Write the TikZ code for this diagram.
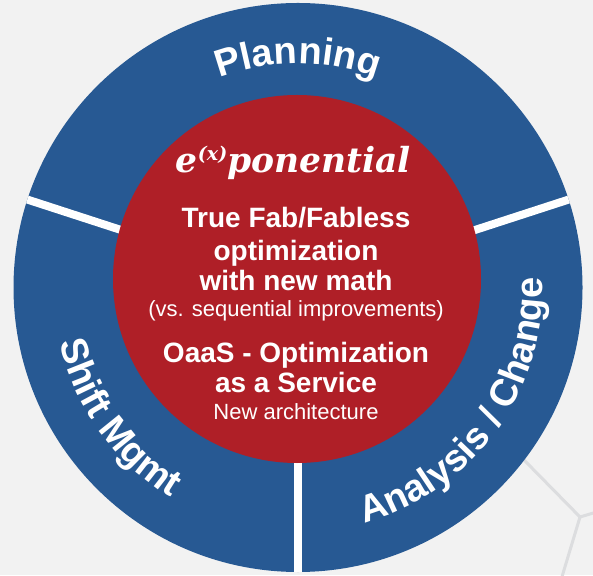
\documentclass[tikz,border=0pt]{standalone}
\usepackage{fontspec}
\setmainfont{Liberation Sans}
\newfontfamily\brandfont{DejaVu Serif}
\usepackage{tikz}
\usetikzlibrary{decorations.text, calc}
\definecolor{RingColor}{RGB}{39,89,147}
\definecolor{CoreColor}{RGB}{175,31,39}
\definecolor{PaperColor}{RGB}{242,242,242}
\definecolor{GridColor}{RGB}{220,221,223}
\tikzstyle{bigline} = [white, font=\bfseries\fontsize{28}{30}\selectfont, anchor=base, inner sep=0pt]
\tikzstyle{smallline} = [white, font=\fontsize{22}{24}\selectfont, anchor=base, inner sep=0pt]
\tikzstyle{divider} = [white, line width=8pt]
\tikzstyle{hexline} = [GridColor, line width=3pt]
\newcommand{\ringlabel}{\bfseries\fontsize{38}{40}\selectfont}

\begin{document}
\begin{tikzpicture}[x=1pt, y=1pt]
\fill[PaperColor] (0,0) rectangle (593,575);
\useasboundingbox (0,0) rectangle (593,575);
\clip (0,0) rectangle (593,575);

% background grid
\coordinate (h0) at (580,58);
\coordinate (h1) at (470,170);
\coordinate (h2) at (600,64);
\coordinate (h3) at (561,-5);
\draw[hexline] (h1) -- (h0) -- (h2);
\draw[hexline] (h0) -- (h3);

% outer ring
\coordinate (ring) at (298,287.5);
\fill[RingColor] (ring) circle[radius=284.5];
\begin{scope}
    \clip (ring) circle[radius=284.5];
    \foreach \a in {18,162,270}
        \draw[divider] (ring) -- ++(\a:300);
\end{scope}

% ring labels
\path[decorate, decoration={text along path, text={|\ringlabel|Planning}, text align=center, text color=white}]
    (ring) ++(162:224) arc[start angle=162, end angle=18, radius=224];
\path[decorate, decoration={text along path, text={|\ringlabel|Shift Mgmt}, text align=center, text color=white}]
    (ring) ++(162:245) arc[start angle=162, end angle=270, radius=245];
\path[decorate, decoration={text along path, text={|\ringlabel|Analysis / Change}, text align=center, text color=white}]
    (ring) ++(-90:245) arc[start angle=-90, end angle=18, radius=245];

% core
\coordinate (core) at (297,296);
\fill[CoreColor] (core) circle[radius=184];

\node[anchor=base, white, inner sep=0pt, font=\brandfont\bfseries\itshape\fontsize{34.5}{36}\selectfont] (brand) at (293.5,402)
    {e\raisebox{12pt}{\fontsize{19}{20}\selectfont(x)}ponential};
\node[bigline] (fab) at (296,347) {True Fab/Fabless};
\node[bigline] (opt) at (296,314.3) {optimization};
\node[bigline] (math) at (296,284.3) {with new math};
\node[smallline] (seq) at (296,258.3) {(vs. sequential improvements)};
\node[bigline] (oaas) at (296,212.3) {OaaS - Optimization};
\node[bigline] (serv) at (296,182) {as a Service};
\node[smallline] (arch) at (296,155) {New architecture};
\end{tikzpicture}
\end{document}
